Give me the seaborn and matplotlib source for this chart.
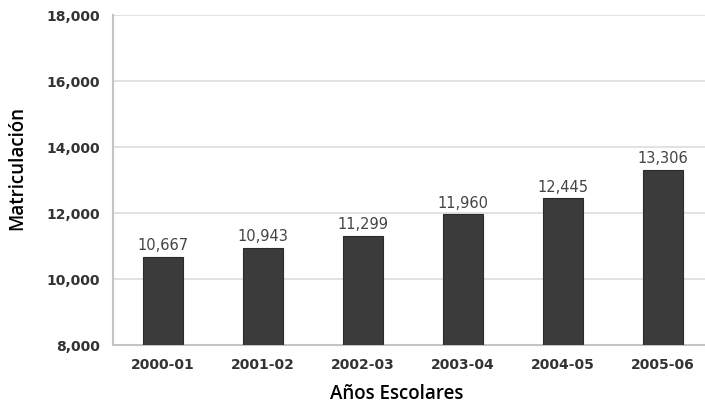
import matplotlib
matplotlib.use("Agg")
import matplotlib.pyplot as plt
import seaborn as sns
import pandas as pd
from matplotlib.ticker import FuncFormatter

years = ["2000-01", "2001-02", "2002-03", "2003-04", "2004-05", "2005-06"]
enrollment = [10667, 10943, 11299, 11960, 12445, 13306]

df = pd.DataFrame({"year": years, "value": enrollment})

sns.set_style("white")
plt.rcParams['font.family'] = ['DejaVu Sans']

fig = plt.figure(figsize=(7.05, 4.06), dpi=100)
ax = fig.add_axes([0.160, 0.148, 0.840, 0.813])

sns.barplot(data=df, x="year", y="value", color="#3b3b3b", width=0.4,
            edgecolor="#2a2a2a", linewidth=0.8, ax=ax, zorder=3, saturation=1)

ax.set_ylim(8000, 18000)
ax.set_xlim(-0.5, 5.42)
ax.set_yticks(range(8000, 18001, 2000))
ax.yaxis.set_major_formatter(FuncFormatter(lambda v, p: f"{int(v):,}"))
ax.grid(axis="y", color="#dddddd", linewidth=1.2, zorder=0)
for s in ["top", "right"]:
    ax.spines[s].set_visible(False)
for s in ["left", "bottom"]:
    ax.spines[s].set_color("#c4c4c4")
    ax.spines[s].set_linewidth(1.5)
ax.tick_params(axis="x", length=0, pad=9, labelcolor="#333333")
ax.tick_params(axis="y", length=0, pad=9, labelcolor="#333333")
for lab in ax.get_xticklabels() + ax.get_yticklabels():
    lab.set_fontweight("bold")
    lab.set_fontsize(10)

for i, v in enumerate(enrollment):
    ax.text(i, v + 140, f"{v:,}", ha="center", va="bottom", fontsize=10.5,
            color="#444444")

ax.set_xlabel("Años Escolares", fontsize=13.5, family=["Open Sans", "DejaVu Sans"],
              fontweight="semibold", color="black")
ax.set_ylabel("Matriculación", fontsize=13.5, family=["Open Sans", "DejaVu Sans"],
              fontweight="semibold", color="black")
ax.xaxis.set_label_coords(0.5 - (113 + 296 - 397) / 592 * 0 + (397 - 409) / 592, -0.115)
ax.yaxis.set_label_coords(-0.144, 0.5 - (155 - 181) / 330 * 0 + (181 - 168) / 330)

fig.savefig("out.png", dpi=100)
